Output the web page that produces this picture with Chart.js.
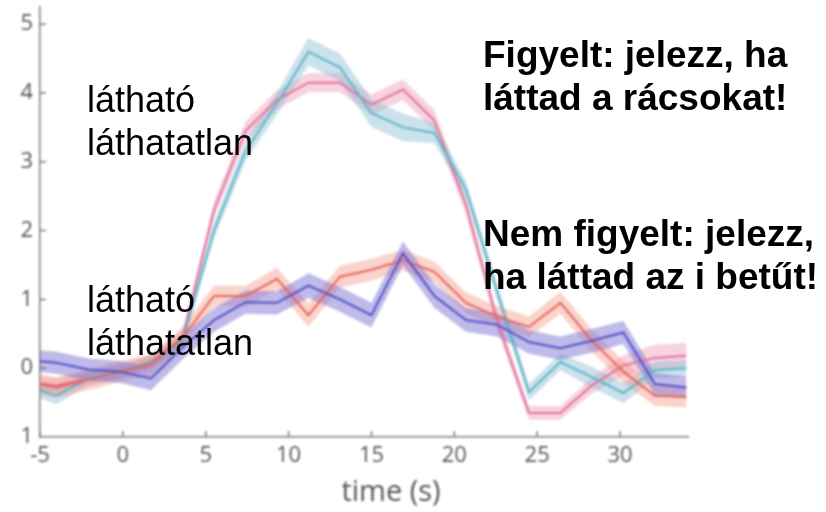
<!DOCTYPE html>
<html>
<head>
<meta charset="utf-8">
<script src="https://cdn.jsdelivr.net/npm/chart.js@4"></script>
<style>
  html, body { margin: 0; padding: 0; background: #fff; }
  #wrap { position: relative; width: 826px; height: 512px; overflow: hidden; }
  #chart { position: absolute; left: 0; top: 0; filter: blur(0.9px); }
  .lbl { position: absolute; font-family: "Liberation Sans", Arial, sans-serif; color: #000;
         white-space: nowrap; font-size: 36px; line-height: 43px; }
  .lbl.bold { font-weight: bold; font-size: 37px; }
</style>
</head>
<body>
<div id="wrap">
  <canvas id="chart" width="826" height="512"></canvas>
  <div class="lbl" style="left:87px; top:78px">látható<br>láthatatlan</div>
  <div class="lbl" style="left:87px; top:278px">látható<br>láthatatlan</div>
  <div class="lbl bold" style="left:483px; top:33px">Figyelt: jelezz, ha<br>láttad a rácsokat!</div>
  <div class="lbl bold" style="left:483px; top:212px">Nem figyelt: jelezz,<br>ha láttad az i betűt!</div>
</div>
<script>
// sample times (s), one every 1.9 s
const times = [-5.9, -4.0, -2.1, -0.2, 1.7, 3.6, 5.5, 7.4, 9.3, 11.2, 13.1, 15.0, 16.9, 18.8, 20.7, 22.6, 24.5, 26.4, 28.3, 30.2, 32.1, 34.0];

// attended, visible (pink)
const attVis = [-0.2, -0.25, -0.15, -0.05, 0.1, 0.45, 2.3, 3.45, 3.9, 4.15, 4.15, 3.83, 4.05, 3.6, 2.37, 0.67, -0.65, -0.65, -0.25, 0.04, 0.15, 0.18];
const attVisErr = [0.1, 0.1, 0.1, 0.1, 0.1, 0.1, 0.12, 0.14, 0.14, 0.14, 0.14, 0.15, 0.15, 0.15, 0.13, 0.12, 0.1, 0.1, 0.12, 0.15, 0.19, 0.19];

// attended, invisible (cyan)
const attInv = [-0.25, -0.4, -0.15, -0.05, 0.08, 0.4, 2.0, 3.15, 3.85, 4.6, 4.37, 3.71, 3.5, 3.42, 2.6, 1.1, -0.35, 0.09, -0.13, -0.36, -0.03, 0.0];
const attInvErr = [0.12, 0.12, 0.1, 0.1, 0.1, 0.1, 0.12, 0.14, 0.16, 0.2, 0.2, 0.2, 0.2, 0.15, 0.12, 0.12, 0.12, 0.12, 0.15, 0.15, 0.12, 0.12];

// unattended, visible (red)
const unVis = [-0.2, -0.28, -0.17, -0.05, 0.05, 0.45, 1.05, 1.05, 1.3, 0.77, 1.33, 1.43, 1.57, 1.4, 0.95, 0.75, 0.6, 0.95, 0.4, -0.05, -0.4, -0.42];
const unVisErr = [0.15, 0.15, 0.15, 0.15, 0.15, 0.15, 0.15, 0.15, 0.16, 0.17, 0.16, 0.16, 0.15, 0.15, 0.15, 0.15, 0.15, 0.16, 0.16, 0.16, 0.15, 0.15];

// unattended, invisible (blue)
const unInv = [0.12, 0.08, -0.02, -0.05, -0.15, 0.3, 0.7, 0.96, 0.95, 1.2, 1.0, 0.77, 1.67, 1.05, 0.7, 0.63, 0.38, 0.29, 0.4, 0.52, -0.23, -0.28];
const unInvErr = [0.16, 0.16, 0.16, 0.16, 0.17, 0.17, 0.17, 0.17, 0.17, 0.18, 0.18, 0.18, 0.17, 0.17, 0.17, 0.17, 0.17, 0.17, 0.17, 0.17, 0.16, 0.16];

const xTicks = [-5, 0, 5, 10, 15, 20, 25, 30];
const yTickLabels = ['1', '0', '1', '2', '3', '4', '5'];

const axisColor = '#7a7a7a';
const tickColor = '#555';

function pts(vals, err, sign) {
  return times.map((t, i) => ({ x: t, y: vals[i] + sign * err[i] }));
}

function lineSet(vals, color) {
  return {
    data: times.map((t, i) => ({ x: t, y: vals[i] })),
    borderColor: color, borderWidth: 2, pointRadius: 0, fill: false, clip: 0, order: 0
  };
}

function bandSets(vals, err, color) {
  return [
    { data: pts(vals, err, 1), borderWidth: 0, pointRadius: 0, fill: false, clip: 0, order: 1 },
    { data: pts(vals, err, -1), borderWidth: 0, pointRadius: 0, fill: '-1', backgroundColor: color, clip: 0, order: 1 }
  ];
}

// inward tick marks and the axis title
const axisExtras = {
  id: 'axisExtras',
  afterDraw(chart) {
    const { ctx, chartArea, scales } = chart;
    const x = scales.x, y = scales.y;
    ctx.save();
    ctx.strokeStyle = axisColor;
    ctx.lineWidth = 1.5;
    ctx.beginPath();
    x.ticks.forEach(t => {
      const px = x.getPixelForValue(t.value);
      ctx.moveTo(px, chartArea.bottom);
      ctx.lineTo(px, chartArea.bottom - 6);
    });
    y.ticks.forEach(t => {
      if (t.value <= -1) return;
      const py = y.getPixelForValue(t.value);
      ctx.moveTo(chartArea.left, py);
      ctx.lineTo(chartArea.left + 6, py);
    });
    ctx.stroke();
    ctx.fillStyle = tickColor;
    ctx.font = '29px "Open Sans"';
    ctx.textAlign = 'center';
    ctx.textBaseline = 'alphabetic';
    ctx.fillText('time (s)', 391, 501);
    ctx.restore();
  }
};

const datasets = [
  lineSet(unInv, '#5150c6'),
  lineSet(unVis, '#e8645c'),
  lineSet(attInv, '#5cb6c6'),
  lineSet(attVis, '#e2729a'),
  ...bandSets(unInv, unInvErr, 'rgba(128,118,214,0.5)'),
  ...bandSets(unVis, unVisErr, 'rgba(242,150,130,0.42)'),
  ...bandSets(attInv, attInvErr, 'rgba(140,188,210,0.45)'),
  ...bandSets(attVis, attVisErr, 'rgba(236,150,178,0.42)')
];

new Chart(document.getElementById('chart'), {
  type: 'line',
  data: { datasets },
  options: {
    responsive: false,
    animation: false,
    layout: { padding: { top: 7, right: 138, left: 0, bottom: 0 } },
    plugins: { legend: { display: false }, tooltip: { enabled: false } },
    elements: { line: { tension: 0 } },
    scales: {
      x: {
        type: 'linear', min: -5, max: 34.1,
        afterBuildTicks: s => { s.ticks = xTicks.map(v => ({ value: v })); },
        afterFit: s => { s.height = 75; s.paddingLeft = 0; s.paddingRight = 0; },
        ticks: { font: { family: 'Open Sans', size: 22 }, color: tickColor, padding: 6, maxRotation: 0 },
        grid: { drawOnChartArea: false, drawTicks: false },
        border: { color: axisColor, width: 1.5 }
      },
      y: {
        type: 'linear', min: -1, max: 5.25,
        afterFit: s => { s.width = 40; s.paddingTop = 0; s.paddingBottom = 0; },
        ticks: {
          stepSize: 1, includeBounds: false, padding: 7,
          font: { family: 'Open Sans', size: 22 }, color: tickColor,
          callback: (v, i) => yTickLabels[i]
        },
        grid: { drawOnChartArea: false, drawTicks: false },
        border: { color: axisColor, width: 1.5 }
      }
    }
  },
  plugins: [axisExtras]
});
</script>
</body>
</html>
